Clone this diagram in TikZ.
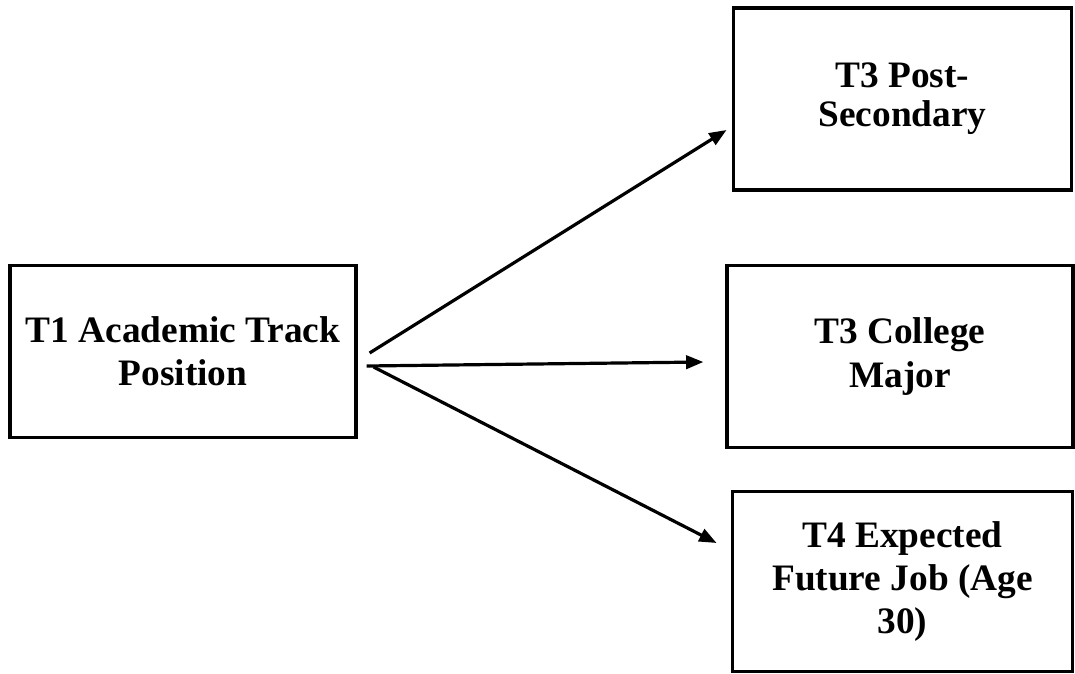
\documentclass[tikz,border=0pt]{standalone}
\usepackage{fontspec}
\setmainfont{Liberation Serif}
\usetikzlibrary{arrows.meta}
\begin{document}
\begin{tikzpicture}[x=0.75pt,y=0.75pt,yscale=-1,xscale=1,
  varbox/.style={draw,line width=2.4pt,align=center,inner sep=0pt,
    font=\fontsize{28}{32.5}\selectfont\bfseries},
  path/.style={line width=2.4pt,-{Triangle[length=13pt,width=10pt]}}]
\useasboundingbox (0,0) rectangle (1075,674);

% Boxes
\node [varbox,minimum width=259.5pt,minimum height=129.5pt] (t1track) at (183,351.5) {T1 Academic Track\\Position};
\node [varbox,minimum width=254pt,minimum height=136.5pt] (t3post) at (902.5,99) {T3 Post-\\[-3pt]Secondary};
\node [varbox,minimum width=259.5pt,minimum height=137pt] (t3major) at (900,356.5) {T3 College\\Major};
\node [varbox,minimum width=255.5pt,minimum height=135.5pt] (t4job) at (902.5,581.5) {T4 Expected\\Future Job (Age\\30)};

% Paths
\draw [path] ([shift={(12,1.5)}]t1track.east) -- ([shift={(-5,31)}]t3post.west);
\draw [path] ([shift={(9,14.5)}]t1track.east) -- ([shift={(-22,5.5)}]t3major.west);
\draw [path] ([shift={(16,15.5)}]t1track.east) -- ([shift={(-14,-38.5)}]t4job.west);

\end{tikzpicture}
\end{document}
